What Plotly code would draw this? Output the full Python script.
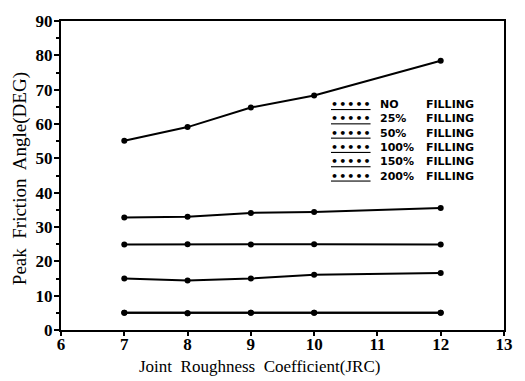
import plotly.graph_objects as go

jrc = [7, 8, 9, 10, 12]
no_filling = [55.1, 59.1, 64.8, 68.3, 78.4]
fill_25 = [32.8, 33.0, 34.1, 34.4, 35.5]
fill_50 = [24.9, 25.0, 24.9, 25.0, 24.9]
fill_100 = [15.0, 14.4, 15.0, 16.1, 16.6]
fill_150 = [5.0, 4.9, 5.0, 5.0, 5.0]
fill_200 = [5.0, 4.9, 5.0, 5.0, 5.0]

series_labels = ["NO", "25%", "50%", "100%", "150%", "200%"]
series_values = [no_filling, fill_25, fill_50, fill_100, fill_150, fill_200]
legend_word = "FILLING"

fig = go.Figure()
for name, vals in zip(series_labels, series_values):
    fig.add_trace(go.Scatter(
        x=jrc, y=vals, mode="lines+markers", name=name + " " + legend_word,
        line=dict(color="black", width=2),
        marker=dict(color="black", size=6, symbol="circle"),
        showlegend=False,
    ))

serif = "Liberation Serif"
leg_font = dict(family="DejaVu Sans", size=11, color="black", weight="bold")
sym = "<u>&#8226;&#8202;&#8226;&#8202;&#8226;&#8202;&#8226;&#8202;&#8226;</u>"
leg_top = (330 - 90) / 317

fig.update_layout(
    width=525, height=381,
    margin=dict(l=61, r=18, t=13, b=51),
    paper_bgcolor="white", plot_bgcolor="white",
    showlegend=False,
    xaxis=dict(
        range=[6, 13], tickmode="linear", tick0=6, dtick=1,
        showgrid=False, zeroline=False,
        showline=True, linecolor="black", linewidth=2, mirror=True,
        ticks="outside", ticklen=4, tickwidth=2, tickcolor="black",
        ticklabelstandoff=-6,
        tickfont=dict(family=serif, size=17, color="black", weight="bold"),
    ),
    yaxis=dict(
        range=[0, 90], tickmode="linear", tick0=0, dtick=10,
        showgrid=False, zeroline=False,
        showline=True, linecolor="black", linewidth=2, mirror=True,
        ticks="outside", ticklen=5, tickwidth=2, tickcolor="black",
        ticklabelstandoff=-2,
        minor=dict(dtick=5, ticks="outside", ticklen=3, tickwidth=1.5, tickcolor="black"),
        tickfont=dict(family=serif, size=17, color="black", weight="bold"),
    ),
    annotations=[
        dict(text="Joint&nbsp; Roughness&nbsp; Coefficient(JRC)", xref="paper", yref="paper",
             x=(261 - 61) / 446, y=-(367 - 330) / 317, xanchor="center", yanchor="middle",
             showarrow=False, font=dict(family=serif, size=17, color="black")),
        dict(text="Peak&nbsp; Friction&nbsp; Angle(DEG)", xref="paper", yref="paper",
             x=-(61 - 20) / 446, y=(330 - 175) / 317, xanchor="center", yanchor="middle",
             textangle=-90, showarrow=False, font=dict(family=serif, size=19, color="black")),
        dict(text="<br>".join([sym] * len(series_labels)), xref="paper", yref="paper",
             x=(331 - 61) / 446, y=leg_top, xanchor="left", yanchor="top", align="left",
             showarrow=False, font=leg_font),
        dict(text="<br>".join(series_labels), xref="paper", yref="paper",
             x=(380 - 61) / 446, y=leg_top, xanchor="left", yanchor="top", align="left",
             showarrow=False, font=leg_font),
        dict(text="<br>".join([legend_word] * len(series_labels)), xref="paper", yref="paper",
             x=(426 - 61) / 446, y=leg_top, xanchor="left", yanchor="top", align="left",
             showarrow=False, font=leg_font),
    ],
)

fig.write_html("out.html")
